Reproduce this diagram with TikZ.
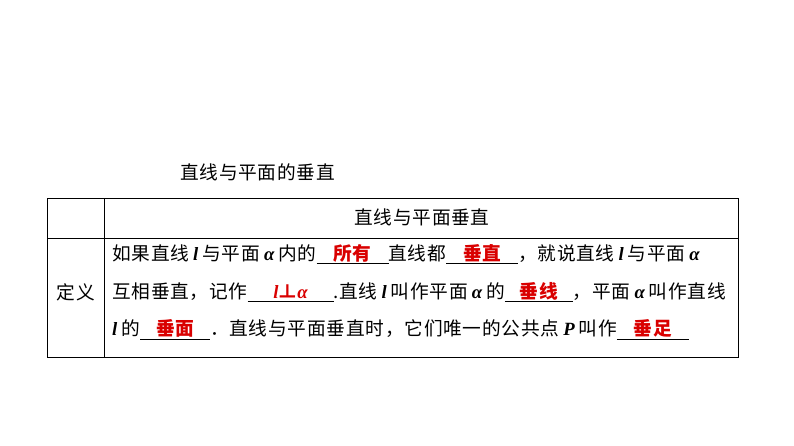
\documentclass[tikz,border=0pt]{standalone}
\usepackage{fontspec}
\setmainfont{Liberation Serif}
\newfontfamily\cjk[LetterSpace=4]{Noto Sans CJK SC}
\newcommand{\vi}[1]{{\fontspec{Liberation Serif}\bfseries\itshape #1}}
\newcommand{\sv}[1]{\hspace{4pt}\vi{#1}\hspace{4pt}}
\newcommand{\ans}[2]{\rlap{\rule[-4pt]{#1}{0.9pt}}\makebox[#1]{\color{red!85!black}\bfseries #2}}
\tikzset{txt/.style={inner sep=0pt,anchor=west,font=\cjk\fontsize{18.7}{19}\selectfont}}
\begin{document}
\begin{tikzpicture}[x=1pt,y=1pt]
\useasboundingbox (0,0) rectangle (794,446);
\tikzset{grid/.style={line width=0.8pt}}
\draw[grid] (47,89) rectangle (738,248);
\draw[grid] (47,208) -- (738,208);
\draw[grid] (104,89) -- (104,248);
\node[txt] (title) at (180,274) {直线与平面的垂直};
\node[txt,anchor=center] (head) at (422,229) {直线与平面垂直};
\node[txt,anchor=center] (def) at (76,154) {定义};
\node[txt] (l1) at (112,192) {如果直线\sv{l}与平面\sv{α}内的\ans{72pt}{所有}直线都\ans{72pt}{垂直}，就说直线\sv{l}与平面\sv{α}};
\node[txt] (l2) at (112,154) {互相垂直，记作\ans{86pt}{\vi{l}⊥\vi{α}}.直线\sv{l}叫作平面\sv{α}的\ans{68pt}{垂线}，平面\sv{α}叫作直线};
\node[txt] (l3) at (112,116) {\vi{l}\hspace{4pt}的\ans{70pt}{垂面}．直线与平面垂直时，它们唯一的公共点\sv{P}叫作\ans{72pt}{垂足}};
\end{tikzpicture}
\end{document}
